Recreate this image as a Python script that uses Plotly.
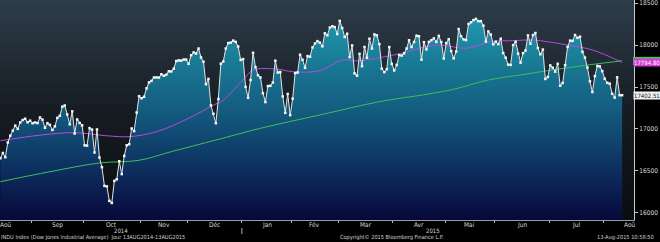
import numpy as np
import pandas as pd
import plotly.graph_objects as go

# ---------------- data ----------------
holidays = ["2014-09-01", "2014-11-27", "2014-12-25", "2015-01-01", "2015-01-19",
            "2015-02-16", "2015-04-03", "2015-05-25", "2015-07-03"]
start_date = "2014-08-13"
end_date = "2015-08-12"

close = [
    # Aug 2014
    16651.80, 16713.58, 16662.91, 16838.74, 16919.59, 16979.13, 17039.49, 17001.22, 17076.87, 17106.70, 17122.01, 17079.57, 17098.45,
    # Sep
    17067.56, 17078.28, 17069.58, 17137.36, 17111.42, 17013.87, 17068.71, 17049.00, 16987.51, 17031.14, 17131.97, 17156.85, 17265.99,
    17279.74, 17172.68, 17055.87, 17210.06, 16945.80, 17113.15, 17071.22, 17042.90,
    # Oct
    16804.71, 16801.05, 17009.69, 16991.91, 16719.39, 16994.22, 16659.25, 16544.10, 16321.07, 16315.19, 16141.74, 16117.24, 16380.41,
    16399.67, 16614.81, 16461.32, 16677.90, 16805.41, 16817.94, 17005.75, 16974.31, 17195.42, 17390.52,
    # Nov
    17366.24, 17383.84, 17484.53, 17554.47, 17573.93, 17613.74, 17614.90, 17612.20, 17652.79, 17634.74, 17647.75, 17687.82, 17685.73,
    17719.00, 17810.06, 17817.90, 17814.94, 17827.75, 17828.24,
    # Dec
    17776.80, 17879.55, 17912.62, 17900.10, 17958.79, 17852.48, 17801.20, 17533.15, 17596.34, 17280.83, 17180.84, 17068.87, 17356.87,
    17778.15, 17804.80, 17959.44, 18024.17, 18030.21, 18053.71, 18038.23, 17983.07, 17823.07,
    # Jan 2015
    17832.99, 17501.65, 17371.64, 17584.52, 17907.87, 17737.37, 17640.84, 17613.68, 17427.09, 17320.71, 17511.57, 17515.23, 17554.28,
    17813.98, 17672.60, 17678.70, 17387.21, 17191.37, 17416.85, 17164.95,
    # Feb
    17361.04, 17666.40, 17673.02, 17884.88, 17824.29, 17729.21, 17868.76, 17862.14, 17972.38, 18019.35, 18047.58, 18029.85, 17985.77,
    18140.44, 18116.84, 18209.19, 18224.57, 18214.42, 18132.70,
    # Mar
    18288.63, 18203.37, 18096.90, 18135.72, 17856.78, 17995.72, 17662.94, 17635.39, 17895.22, 17749.31, 17977.42, 17849.08, 18076.19,
    17959.03, 18127.65, 18116.04, 18011.14, 17718.54, 17678.23, 17712.66, 17976.31, 17776.12,
    # Apr
    17698.18, 17763.24, 17880.85, 17875.42, 17902.51, 17958.73, 18057.65, 17977.04, 18036.70, 18112.61, 18105.77, 17826.30, 18034.93,
    17949.59, 18038.27, 18058.69, 18080.14, 18037.97, 18110.14, 18035.53, 17840.52,
    # May
    18024.06, 18070.40, 17928.20, 17841.98, 17924.06, 18191.11, 18105.17, 18068.23, 18060.49, 18252.24, 18272.56, 18298.88, 18312.39,
    18285.40, 18285.74, 18232.02, 18041.54, 18162.99, 18126.12, 18010.68,
    # Jun
    18040.37, 18011.94, 18076.27, 17905.58, 17849.46, 17766.55, 17764.04, 18000.40, 18039.37, 17898.84, 17791.17, 17904.48, 17935.74,
    18115.84, 18015.95, 18119.78, 18144.07, 17966.07, 17890.36, 17946.68, 17596.35, 17619.51,
    # Jul
    17757.91, 17730.11, 17683.58, 17776.91, 17515.42, 17548.62, 17760.41, 17977.68, 18053.58, 18050.17, 18120.25, 18086.45, 18100.41,
    17919.29, 17851.04, 17731.92, 17568.53, 17440.59, 17630.27, 17751.39, 17745.98, 17689.86,
    # Aug 2015
    17598.20, 17550.69, 17540.47, 17419.75, 17373.38, 17615.17, 17402.84, 17402.51,
]

ma50_dates = ["2014-08-13", "2014-09-23", "2014-10-15", "2014-10-27", "2014-11-11", "2014-12-01", "2014-12-16",
              "2014-12-18", "2015-01-02", "2015-01-08", "2015-01-23", "2015-02-02", "2015-02-18", "2015-03-03",
              "2015-03-11", "2015-03-25", "2015-04-07", "2015-04-21", "2015-04-29", "2015-05-13", "2015-05-28",
              "2015-06-10", "2015-06-22", "2015-07-01", "2015-07-13", "2015-07-27", "2015-08-12"]
ma50_vals = [16860, 16955, 16916, 16908, 16967, 17127, 17298, 17320, 17584, 17703, 17712, 17683, 17695, 17822,
             17811, 17855, 17902, 17981, 18001, 17962, 18041, 18053, 18061, 18035, 18001, 17942, 17794.80]

ma200_dates = ["2014-08-13", "2014-09-11", "2014-10-09", "2014-10-31", "2014-11-19", "2014-12-16", "2015-01-13",
               "2015-02-18", "2015-03-24", "2015-04-21", "2015-05-06", "2015-05-27", "2015-06-15", "2015-06-30",
               "2015-07-24", "2015-08-12"]
ma200_vals = [16371, 16490, 16594, 16626, 16729, 16868, 17008, 17167, 17325, 17413, 17473, 17584, 17644, 17695,
              17766, 17812.40]

month_labels = ["Aoû", "Sep", "Oct", "Nov", "Déc", "Jan", "Fév", "Mar", "Avr", "Mai", "Jun", "Jul", "Aoû"]
y_ticks = [16000, 16500, 17000, 17500, 18000, 18500]

# ---------------- calendar (trading days) ----------------
cal = pd.bdate_range("2014-08-01", "2015-08-31", freq="C", holidays=holidays)
origin = cal.get_loc(pd.Timestamp(start_date))
cal_idx = np.arange(len(cal)) - origin
date_to_idx = {d.strftime("%Y-%m-%d"): int(i) for d, i in zip(cal, cal_idx)}
trade_days = cal[(cal >= pd.Timestamp(start_date)) & (cal <= pd.Timestamp(end_date))]
x_close = [date_to_idx[d.strftime("%Y-%m-%d")] for d in trade_days]
assert len(x_close) == len(close)

x50 = [date_to_idx[d] for d in ma50_dates]
x200 = [date_to_idx[d] for d in ma200_dates]

cal_df = pd.DataFrame({"d": cal, "i": cal_idx})
cal_df["ym"] = cal_df["d"].dt.to_period("M")
month_centers = cal_df.groupby("ym")["i"].mean().values
month_starts = cal_df.groupby("ym")["i"].min().values
boundaries = [s - 0.5 for s in month_starts if 0 < s <= x_close[-1]]

data_df = cal_df[(cal_df["i"] >= 0) & (cal_df["i"] <= x_close[-1])]
year_centers = data_df.groupby(data_df["d"].dt.year)["i"].mean()
year_break = data_df[data_df["d"].dt.year == 2015]["i"].min() - 0.5

# ---------------- figure ----------------
x_lo, x_hi = -0.15, 255.8
y_lo, y_hi = 15914, 18538
FONT = "Liberation Sans Narrow, DejaVu Sans Condensed, Arial Narrow, sans-serif"
PLOT_H = 220.0
PLOT_W = 634.0
PX_PER_PT = PLOT_H / (y_hi - y_lo)


def py(px):
    """pixel row (from top of figure) -> paper y"""
    return (PLOT_H - px) / PLOT_H


fig = go.Figure()

# background gradient panel
fig.add_trace(go.Scatter(
    x=[x_lo, x_hi, x_hi, x_lo, x_lo], y=[y_lo, y_lo, y_hi, y_hi, y_lo],
    mode="lines", line=dict(width=0), fill="toself",
    fillgradient=dict(type="vertical", start=y_lo, stop=y_hi,
                      colorscale=[[0, "#0a0d10"], [0.5, "#161c22"], [1, "#2e3d4b"]]),
    hoverinfo="skip", showlegend=False))

# price area
fig.add_trace(go.Scatter(
    x=x_close, y=close, mode="lines", line=dict(width=0), fill="tozeroy",
    fillgradient=dict(type="vertical", start=y_lo, stop=y_hi,
                      colorscale=[[0, "#07083a"], [0.25, "#0d3262"], [0.5, "#145c7f"],
                                  [0.75, "#1a7f99"], [1, "#24a4ba"]]),
    hoverinfo="skip", showlegend=False))

# moving averages
fig.add_trace(go.Scatter(x=x200, y=ma200_vals, mode="lines", line=dict(color="#3cbf5c", width=1, shape="spline"),
                         showlegend=False))
fig.add_trace(go.Scatter(x=x50, y=ma50_vals, mode="lines", line=dict(color="#b84ad8", width=1, shape="spline"),
                         showlegend=False))

# price line
fig.add_trace(go.Scatter(x=x_close, y=close, mode="lines+markers",
                         line=dict(color="#e4e4e4", width=1),
                         marker=dict(symbol="square", size=2.5, color="#f6f6f6"),
                         showlegend=False))

annotations = []
for lab, c in zip(month_labels, month_centers):
    annotations.append(dict(x=c, xref="x", y=py(224.5), yref="paper", text=lab, showarrow=False, borderpad=0,
                            xanchor="center", yanchor="middle", font=dict(size=6.5, color="#d6d6d6", family=FONT)))
for yr, c in year_centers.items():
    annotations.append(dict(x=c, xref="x", y=py(230.8), yref="paper", text=str(yr), showarrow=False, borderpad=0,
                            xanchor="center", yanchor="middle", font=dict(size=6, color="#d6d6d6", family=FONT)))

bottom_y = py(237.8)
for txt, xp, anc in [("INDU Index (Dow Jones Industrial Average)  Jour 13AUG2014-13AUG2015", 0, "left"),
                     ("Copyright© 2015 Bloomberg Finance L.P.", 392 / PLOT_W, "center"),
                     ("13-Aug-2015 10:58:50", 655 / PLOT_W, "right")]:
    annotations.append(dict(x=xp, xref="paper", y=bottom_y, yref="paper", showarrow=False, xanchor=anc,
                            yanchor="middle", text=txt, borderpad=0,
                            font=dict(size=5.6, color="#d0d0d0", family=FONT)))

# last-value labels on the right axis (green 200d tag sits behind the magenta 50d tag)
for val, bg, fg in [(ma50_vals[-1], "#d63ad6", "#ffffff"),
                    (close[-1], "#f2f2f2", "#151515")]:
    annotations.append(dict(x=1, xref="paper", xshift=-1, y=val, yref="y", xanchor="left", yanchor="middle",
                            text=f"{val:.2f}", showarrow=False, bgcolor=bg, borderpad=0,
                            font=dict(size=6, color=fg, family=FONT)))

half_tag = 4 / PX_PER_PT
shapes = [
    dict(type="line", xref="x", yref="paper", x0=year_break, x1=year_break,
         y0=py(228), y1=py(234), line=dict(color="#b0b0b0", width=1)),
    dict(type="rect", xref="paper", yref="y", x0=633 / PLOT_W, x1=660 / PLOT_W,
         y0=ma200_vals[-1] - half_tag, y1=ma200_vals[-1] + half_tag,
         fillcolor="#3cc85a", line=dict(width=0)),
]

fig.update_layout(
    width=660, height=242,
    margin=dict(l=0, r=26, t=0, b=22, pad=0),
    paper_bgcolor="#000000", plot_bgcolor="#101418",
    annotations=annotations, shapes=shapes, showlegend=False,
    xaxis=dict(range=[x_lo, x_hi], tickmode="array", tickvals=boundaries, ticktext=[""] * len(boundaries),
               ticks="outside", ticklen=2, tickcolor="#bdbdbd", showline=True, linecolor="#9c9c9c", linewidth=1,
               showgrid=False, zeroline=False, fixedrange=True),
    yaxis=dict(range=[y_lo, y_hi], side="right", tickmode="array", tickvals=y_ticks,
               ticktext=[str(v) for v in y_ticks], ticks="outside", ticklen=3, tickcolor="#c8c8c8",
               showline=True, linecolor="#c8c8c8", linewidth=1, showgrid=False, zeroline=False,
               ticklabeloverflow="allow",
               tickfont=dict(size=6.5, color="#d8d8d8", family=FONT), fixedrange=True),
)

fig.write_html("out.html")
